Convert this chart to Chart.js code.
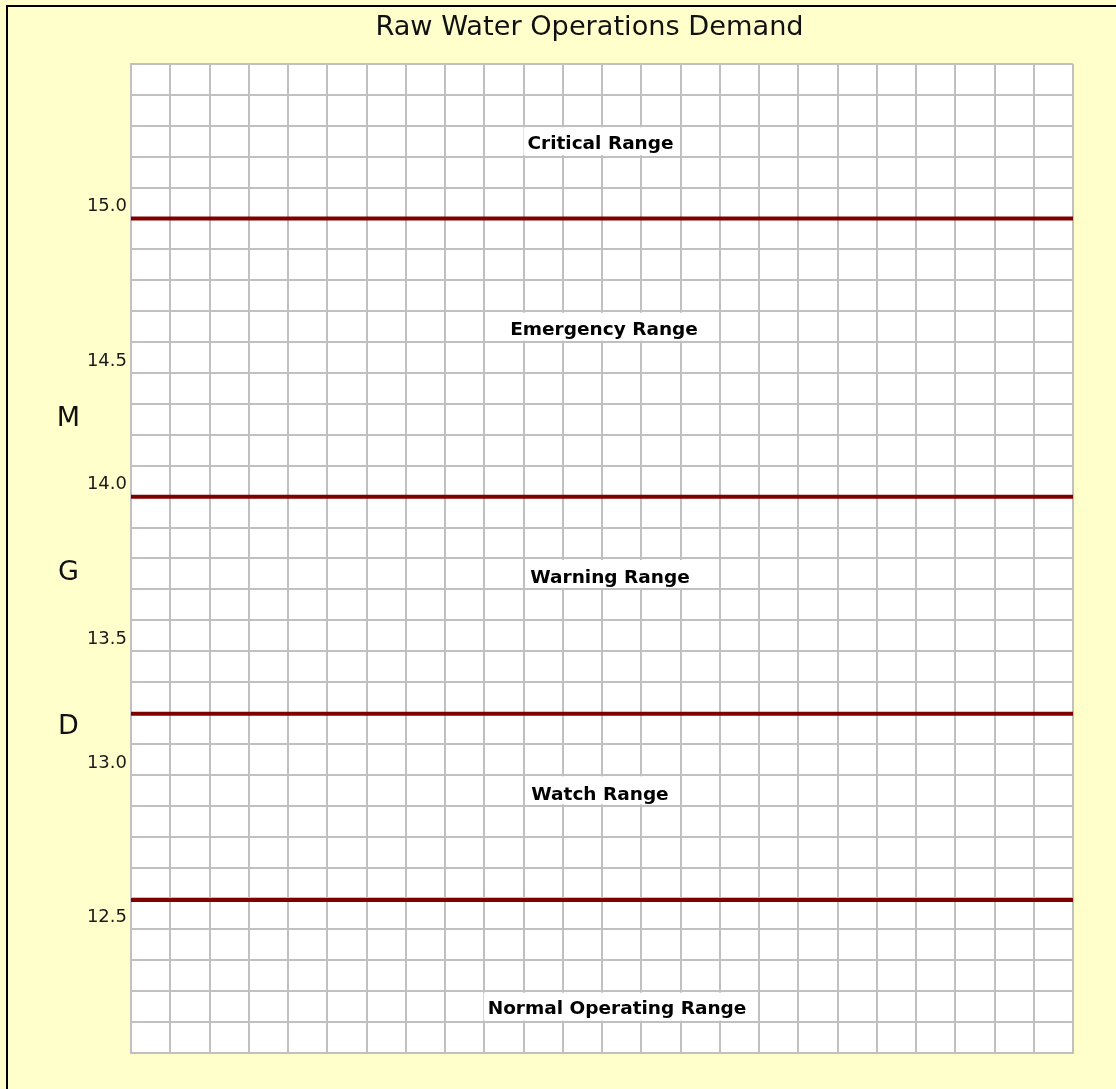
<!DOCTYPE html>
<html>
<head>
<meta charset="utf-8">
<title>Raw Water Operations Demand</title>
<script src="https://cdn.jsdelivr.net/npm/chart.js@4/dist/chart.umd.min.js"></script>
<style>
  html, body { margin: 0; padding: 0; background: #FFFFCC; }
  canvas { display: block; }
</style>
</head>
<body>
<canvas id="demandChart" width="1116" height="1089"></canvas>
<script>
// ---- Chart data -------------------------------------------------------
const chartTitle = 'Raw Water Operations Demand';
const axisLetters = ['M', 'G', 'D'];

// Y axis labels (MGD)
const axisTickValues = [15.0, 14.5, 14.0, 13.5, 13.0, 12.5];
const axisTickLabels = ['15.0', '14.5', '14.0', '13.5', '13.0', '12.5'];

// Threshold lines separating the operating ranges (MGD)
const thresholdValues = [15.0, 14.0, 13.22, 12.55];

// Operating range captions and the MGD level each one sits at
const rangeNames = ['Critical Range', 'Emergency Range', 'Warning Range', 'Watch Range', 'Normal Operating Range'];
const rangeLabelValues = [15.28, 14.61, 13.72, 12.94, 12.17];

// Grid: 24 hourly columns, rows of 1/9 MGD from 12.0 upward
const hourColumns = 24;
const rowsPerUnit = 9;
const gridRows = 32;
const yMin = 12.0;
const yMax = yMin + gridRows / rowsPerUnit;

// ---- Layout / style helpers -------------------------------------------
const gridColor = '#C0C0C0';
const lineColor = '#800000';
const rangeLabelNudgeX = [-1.5, 2, 8, -2, 15];

const gridValues = Array.from({ length: gridRows + 1 }, (_, j) => yMin + j / rowsPerUnit);
const columnValues = Array.from({ length: hourColumns + 1 }, (_, i) => i);

// each axis label sits on the grid line at (or just under) its value
const labelAtGrid = {};
axisTickValues.forEach((v, i) => {
  const j = Math.ceil((v - yMin) * rowsPerUnit - 0.5 - 1e-6);
  labelAtGrid[j] = axisTickLabels[i];
});

const backgroundPlugin = {
  id: 'pageBackground',
  beforeDraw(chart) {
    const { ctx, width, height, chartArea } = chart;
    ctx.save();
    ctx.fillStyle = '#FFFFCC';
    ctx.fillRect(0, 0, width, height);
    ctx.fillStyle = '#FFFFFF';
    ctx.fillRect(chartArea.left, chartArea.top, chartArea.right - chartArea.left, chartArea.bottom - chartArea.top);
    ctx.fillStyle = '#000000';
    ctx.fillRect(6, 5, width - 6, 2);
    ctx.fillRect(6, 5, 2, height - 5);
    ctx.restore();
  }
};

// Title and the stacked M / G / D axis caption
const captionPlugin = {
  id: 'captions',
  afterDraw(chart) {
    const { ctx, chartArea } = chart;
    ctx.save();
    ctx.fillStyle = '#111111';
    ctx.textAlign = 'center';
    ctx.textBaseline = 'middle';

    ctx.font = '27.2px "DejaVu Sans"';
    ctx.fillText(chartTitle, (chartArea.left + chartArea.right) / 2 - 12.5, chartArea.top - 36);

    ctx.font = '27px "DejaVu Sans"';
    const mid = (chartArea.top + chartArea.bottom) / 2 + 14.5;
    const gap = 154;
    axisLetters.forEach((ch, i) => {
      ctx.fillText(ch, 68.5, mid + (i - 1) * gap);
    });
    ctx.restore();
  }
};

const rangeLabelPlugin = {
  id: 'rangeLabels',
  afterDatasetsDraw(chart) {
    const { ctx, scales: { x, y } } = chart;
    const cx = (x.left + x.right) / 2;
    const rowPx = Math.abs(y.getPixelForValue(yMin) - y.getPixelForValue(yMin + 1 / rowsPerUnit));
    ctx.save();
    ctx.font = 'bold 18.5px "DejaVu Sans"';
    ctx.textAlign = 'center';
    ctx.textBaseline = 'middle';
    rangeNames.forEach((name, i) => {
      const v = rangeLabelValues[i];
      const row = Math.floor((yMax - v) * rowsPerUnit);
      const rowTop = y.getPixelForValue(yMax - row / rowsPerUnit);
      const tx = cx + rangeLabelNudgeX[i];
      const w = ctx.measureText(name).width + 8;
      ctx.fillStyle = '#FFFFFF';
      ctx.fillRect(tx - w / 2, rowTop + 1.5, w, rowPx - 3);
      ctx.fillStyle = '#000000';
      ctx.fillText(name, tx, y.getPixelForValue(v) + 3.5);
    });
    ctx.restore();
  }
};

new Chart(document.getElementById('demandChart'), {
  type: 'line',
  data: {
    datasets: thresholdValues.map(v => ({
      data: [{ x: 0, y: v }, { x: hourColumns, y: v }],
      borderColor: lineColor,
      borderWidth: 4,
      pointRadius: 0,
      fill: false
    }))
  },
  options: {
    responsive: false,
    animation: false,
    devicePixelRatio: 1,
    layout: { padding: { left: 40, right: 43, top: 64, bottom: 36 } },
    plugins: {
      legend: { display: false },
      tooltip: { enabled: false },
      title: { display: false }
    },
    scales: {
      x: {
        type: 'linear',
        min: 0,
        max: hourColumns,
        afterBuildTicks: s => { s.ticks = columnValues.map(v => ({ value: v })); },
        afterFit: s => { s.height = 0; },
        ticks: { display: false },
        grid: { color: gridColor, lineWidth: 2, drawTicks: false },
        border: { color: gridColor, width: 2 }
      },
      y: {
        type: 'linear',
        min: yMin,
        max: yMax,
        afterBuildTicks: s => { s.ticks = gridValues.map(v => ({ value: v })); },
        afterFit: s => { s.width = 91; },
        ticks: {
          autoSkip: false,
          padding: 4,
          labelOffset: -12,
          color: '#1A1A1A',
          font: { family: 'DejaVu Sans', size: 18 },
          callback: (value, index) => labelAtGrid[index] ?? ''
        },
        grid: { color: gridColor, lineWidth: 2, drawTicks: false },
        border: { color: gridColor, width: 2 }
      }
    }
  },
  plugins: [backgroundPlugin, rangeLabelPlugin, captionPlugin]
});
</script>
</body>
</html>
